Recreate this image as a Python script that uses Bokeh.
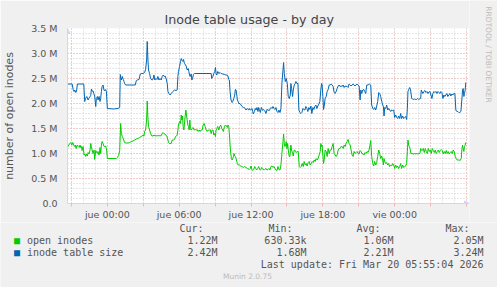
import math
from bokeh.plotting import figure
from bokeh.layouts import column, row
from bokeh.models import (Label, Arrow, NormalHead, FixedTicker, SingleIntervalTicker,
                          CustomJSTickFormatter)
from bokeh.embed import file_html
from bokeh.resources import INLINE

# ---------------- data (hours relative to jue 00:00, values in millions) -------------
size_hours = [-3.33,-2.94,-2.86,-2.78,-2.72,-2.64,-2.58,-2.50,-1.97,-1.89,-1.83,-1.72,-1.61,-1.56,-1.39,-1.33,-1.28,-1.19,-1.14,-1.06,-0.97,-0.92,-0.83,-0.78,-0.69,-0.61,-0.56,-0.50,-0.44,-0.36,-0.28,-0.22,-0.14,-0.08,0.0,0.06,0.5,0.89,1.03,1.08,1.17,1.25,1.33,1.39,1.44,1.53,2.33,2.42,2.50,2.64,2.75,2.83,2.97,3.11,3.19,3.28,3.33,3.39,3.44,3.53,3.61,3.72,3.81,3.89,3.97,4.06,4.14,4.22,4.31,4.39,4.50,4.58,4.67,4.75,4.83,4.94,5.00,5.06,5.14,5.25,5.33,5.47,5.61,5.75,5.83,5.89,5.94,6.03,6.11,6.17,6.25,6.31,6.36,6.44,6.53,6.58,6.67,6.75,6.81,6.86,6.92,7.00,7.06,7.11,7.19,7.28,8.67,8.72,8.81,8.89,8.97,9.03,9.08,9.14,9.22,9.31,9.42,9.50,9.64,9.78,9.92,10.06,10.14,10.19,10.25,10.33,10.42,10.47,10.56,10.64,10.69,10.75,10.81,10.86,10.92,10.97,11.08,11.17,11.25,11.36,11.44,11.58,11.67,11.72,11.81,11.86,11.94,12.03,12.08,12.14,12.19,12.28,12.36,12.42,12.50,12.58,12.64,12.69,12.78,12.86,12.97,13.06,13.14,13.25,13.33,13.42,13.53,13.61,13.67,13.75,13.83,13.92,14.00,14.08,14.17,14.25,14.33,14.42,14.50,14.58,14.72,14.78,14.86,14.94,15.03,15.11,15.19,15.28,15.33,15.39,15.47,15.53,15.61,15.69,15.75,15.83,15.92,16.00,16.08,16.17,16.25,16.33,16.42,16.50,16.58,16.67,16.75,16.83,16.92,17.00,17.08,17.17,17.25,17.33,17.42,17.50,17.58,17.67,17.75,17.83,17.89,17.94,18.00,18.06,18.11,18.19,18.28,18.36,18.44,18.53,18.61,18.69,18.78,18.86,18.94,19.03,19.11,19.19,19.28,19.36,19.44,19.53,19.61,19.69,19.78,19.86,19.94,20.03,20.11,20.19,20.28,20.36,20.44,20.53,20.61,20.69,20.78,20.86,20.94,21.03,21.11,21.17,21.25,21.33,21.42,21.50,21.58,21.67,21.78,21.89,22.00,22.08,22.17,22.25,22.33,22.42,22.50,22.58,22.67,22.75,22.83,22.92,23.00,23.06,23.11,23.17,23.25,23.33,23.42,23.50,23.58,23.67,23.75,23.83,23.92,24.00,24.08,24.17,24.25,24.33,24.42,24.50,24.58,24.67,24.75,24.83,24.92,25.00,25.06,25.11,25.17,25.25,25.33,25.42,25.50,25.58,25.67,25.75,25.83,25.92,26.00,26.08,26.17,26.22,26.28,26.36,26.44,26.53,26.61,26.69,26.78,26.86,26.94,27.03,27.11,27.19,27.28,27.36,27.44,27.53,27.61,27.69,27.78,27.86,27.94,28.03,28.11,28.19,28.28,28.36,28.44,28.53,28.61,28.69,28.78,28.86,28.94,29.03,29.11,29.19,29.28,29.36,29.44,29.53,29.61,29.67,29.72,29.78,29.83,29.89,29.94]
size_millions = [2.39,2.39,2.28,2.24,2.27,2.22,2.24,2.39,2.39,2.04,2.10,2.14,2.07,2.10,2.16,2.29,2.25,2.25,2.20,2.15,1.94,2.10,2.14,2.07,2.14,2.04,2.10,2.24,2.34,2.37,2.27,2.25,2.28,2.24,1.90,1.90,1.89,1.90,1.92,2.58,2.47,2.54,2.48,2.44,2.40,2.37,2.37,2.46,2.47,2.48,2.59,2.60,2.60,2.62,2.68,2.87,3.24,2.87,2.67,2.60,2.50,2.47,2.48,2.57,2.47,2.50,2.48,2.54,2.47,2.50,2.47,2.54,2.57,2.54,2.55,2.47,2.40,2.24,2.20,2.17,2.20,2.24,2.27,2.26,2.27,2.54,2.64,2.74,2.84,2.90,2.86,2.84,2.88,2.80,2.77,2.75,2.67,2.70,2.64,2.57,2.54,2.59,2.47,2.50,2.58,2.60,2.60,2.50,2.54,2.60,2.64,2.72,2.60,2.57,2.64,2.60,2.62,2.60,2.59,2.58,2.57,2.56,2.48,2.47,2.24,2.07,2.02,2.04,2.10,2.17,2.28,2.27,2.17,2.07,2.04,2.00,2.00,1.97,1.94,1.92,1.92,1.87,1.90,1.89,1.87,1.90,1.87,1.88,1.90,1.84,1.79,1.84,1.90,1.87,1.92,1.84,1.92,1.88,1.82,1.92,1.86,1.88,1.86,1.80,1.88,1.87,1.86,1.90,1.92,1.90,1.94,1.90,1.88,1.92,1.84,1.82,1.87,1.82,1.90,2.40,2.82,2.60,2.44,2.50,2.40,2.14,2.10,2.17,2.40,2.30,2.14,2.27,2.37,2.40,2.44,2.40,2.40,1.87,1.82,1.80,1.82,1.90,1.88,1.87,1.94,1.90,1.84,1.92,1.88,1.95,1.80,1.92,1.88,1.94,1.97,1.90,1.95,1.99,2.04,2.27,2.40,2.37,2.14,1.88,1.94,2.10,2.14,2.24,2.28,2.37,2.37,2.39,2.37,2.34,2.22,2.20,2.24,2.30,2.35,2.37,2.34,2.35,2.34,2.37,2.32,2.35,2.34,2.34,2.32,2.39,2.37,2.35,2.37,2.39,2.37,2.35,2.37,2.39,2.37,2.35,2.07,2.27,2.20,2.27,2.28,2.24,2.20,2.37,2.37,2.39,2.37,1.97,1.90,1.88,1.92,1.87,1.95,2.04,2.22,2.20,2.14,2.04,1.97,1.94,1.75,1.92,1.90,1.97,1.87,1.90,1.87,1.84,1.87,1.86,1.87,1.72,1.77,1.72,1.70,1.75,1.70,1.80,1.70,1.75,1.70,1.72,1.74,1.68,1.90,2.24,2.28,2.32,2.27,2.10,2.09,2.08,2.09,2.08,2.08,2.10,2.08,2.09,2.10,2.27,2.24,2.20,2.24,2.26,2.22,2.24,2.20,2.23,2.24,2.17,2.10,2.20,2.24,2.22,2.24,2.20,2.24,2.22,2.20,2.24,2.22,2.10,2.17,2.14,2.17,2.20,2.14,2.17,2.20,2.15,2.19,2.17,2.20,2.20,1.87,1.84,1.84,1.82,1.82,1.84,2.07,2.27,2.30,2.14,2.20,2.27,2.42]

open_hours = [-3.33,-3.28,-3.14,-3.06,-2.97,-2.89,-2.81,-2.72,-2.67,-2.61,-2.56,-2.50,-2.44,-2.36,-2.28,-2.22,-2.17,-2.11,-2.03,-1.94,-1.89,-1.81,-1.75,-1.67,-1.61,-1.53,-1.44,-1.39,-1.33,-1.28,-1.19,-1.11,-1.06,-0.97,-0.89,-0.83,-0.78,-0.69,-0.61,-0.56,-0.50,-0.44,-0.36,-0.28,-0.22,-0.14,-0.06,0.00,0.75,0.83,0.94,1.03,1.11,1.17,1.25,1.33,1.39,1.44,1.58,1.72,1.86,2.00,2.14,2.28,2.42,2.56,2.69,2.83,2.92,2.97,3.06,3.11,3.19,3.28,3.33,3.39,3.44,3.53,3.61,3.72,3.81,3.89,3.97,4.06,4.14,4.22,4.31,4.39,4.47,4.56,4.64,4.72,4.81,4.89,4.97,5.06,5.11,5.19,5.33,5.42,5.53,5.61,5.69,5.78,5.83,5.89,5.94,6.03,6.11,6.17,6.22,6.28,6.33,6.39,6.50,6.56,6.61,6.72,6.78,6.83,6.89,6.94,7.00,7.08,7.17,7.25,7.33,7.42,7.50,7.58,7.67,7.75,7.83,7.92,8.00,8.08,8.17,8.25,8.33,8.42,8.50,8.58,8.67,8.75,8.83,8.89,8.97,9.03,9.08,9.14,9.22,9.31,9.39,9.47,9.56,9.64,9.69,9.78,9.86,9.94,10.03,10.08,10.14,10.19,10.25,10.31,10.36,10.42,10.47,10.53,10.58,10.64,10.69,10.75,10.81,10.86,10.92,11.03,11.14,11.25,11.36,11.47,11.58,11.72,11.86,11.94,12.00,12.08,12.14,12.22,12.31,12.39,12.47,12.56,12.64,12.72,12.81,12.89,12.97,13.06,13.14,13.25,13.33,13.42,13.50,13.58,13.67,13.75,13.83,13.92,14.00,14.08,14.17,14.25,14.33,14.42,14.50,14.58,14.67,14.72,14.78,14.83,14.89,14.94,15.00,15.06,15.11,15.19,15.25,15.33,15.39,15.47,15.53,15.61,15.69,15.78,15.86,15.94,16.03,16.11,16.19,16.28,16.36,16.44,16.53,16.61,16.69,16.78,16.86,16.94,17.03,17.11,17.19,17.28,17.36,17.44,17.53,17.61,17.69,17.78,17.83,17.89,17.94,18.00,18.06,18.11,18.19,18.28,18.36,18.44,18.53,18.61,18.69,18.78,18.86,18.94,19.03,19.11,19.19,19.28,19.36,19.44,19.53,19.61,19.69,19.78,19.86,19.94,20.03,20.11,20.19,20.28,20.36,20.44,20.53,20.61,20.69,20.78,20.86,20.94,21.03,21.11,21.19,21.28,21.36,21.44,21.53,21.61,21.69,21.78,21.86,21.94,22.00,22.08,22.17,22.25,22.33,22.42,22.50,22.58,22.67,22.75,22.83,22.92,23.00,23.06,23.11,23.17,23.25,23.33,23.42,23.50,23.58,23.67,23.75,23.83,23.92,24.00,24.08,24.17,24.25,24.33,24.42,24.50,24.58,24.67,24.75,24.83,24.92,25.00,25.06,25.11,25.17,25.22,25.28,25.36,25.44,25.53,25.61,25.69,25.78,25.86,25.94,26.03,26.11,26.17,26.22,26.31,26.39,26.47,26.56,26.64,26.72,26.81,26.89,26.97,27.06,27.14,27.22,27.31,27.39,27.47,27.56,27.64,27.72,27.81,27.89,27.97,28.06,28.14,28.22,28.31,28.39,28.47,28.56,28.64,28.72,28.81,28.89,28.97,29.06,29.14,29.22,29.31,29.39,29.47,29.56,29.61,29.67,29.72,29.78,29.83,29.89,29.94]
open_millions = [1.12,1.15,1.20,1.22,1.17,1.22,1.17,1.14,1.17,1.10,1.15,1.17,1.14,1.12,1.17,1.12,1.14,1.06,1.14,0.97,0.99,0.94,0.99,0.95,1.02,0.99,1.08,1.20,1.14,1.07,1.00,1.07,0.88,1.06,1.02,1.00,1.04,0.97,1.12,1.00,1.17,1.24,1.20,1.14,1.14,1.15,1.07,0.90,0.90,0.92,0.96,1.06,1.60,1.40,1.34,1.30,1.25,1.22,1.21,1.21,1.22,1.24,1.25,1.27,1.29,1.30,1.32,1.34,1.35,1.37,1.35,1.44,1.47,1.67,2.05,1.70,1.54,1.47,1.40,1.35,1.35,1.37,1.35,1.36,1.35,1.36,1.35,1.36,1.35,1.39,1.42,1.40,1.39,1.36,1.35,1.27,1.22,1.20,1.20,1.27,1.27,1.28,1.34,1.35,1.37,1.47,1.57,1.64,1.60,1.77,1.67,1.75,1.54,1.47,1.75,1.87,1.77,1.57,1.54,1.47,1.67,1.50,1.47,1.50,1.52,1.47,1.48,1.47,1.48,1.44,1.47,1.44,1.47,1.47,1.57,1.60,1.54,1.47,1.44,1.47,1.46,1.48,1.40,1.47,1.47,1.37,1.40,1.34,1.47,1.50,1.54,1.47,1.54,1.57,1.50,1.47,1.44,1.54,1.57,1.55,1.52,1.57,1.54,1.40,1.17,1.00,0.90,0.87,0.90,0.94,1.00,0.95,0.94,0.90,0.84,0.80,0.77,0.77,0.75,0.74,0.72,0.74,0.72,0.70,0.68,0.70,0.75,0.68,0.66,0.68,0.74,0.70,0.67,0.70,0.74,0.68,0.67,0.72,0.70,0.67,0.68,0.70,0.67,0.68,0.70,0.67,0.74,0.75,0.72,0.74,0.70,0.67,0.66,0.74,0.68,0.67,0.77,1.00,1.24,1.39,1.20,1.14,1.17,1.24,1.10,1.20,1.07,0.94,0.94,1.17,1.07,1.00,0.95,1.07,1.06,1.02,1.04,1.04,0.74,0.72,0.74,0.80,0.74,0.84,0.77,0.80,0.75,0.82,0.84,0.77,0.80,0.84,0.82,0.87,0.84,0.90,0.87,0.90,0.97,1.04,1.20,1.14,1.17,0.97,0.80,0.87,1.07,1.04,0.94,1.10,1.00,1.07,1.07,1.14,1.20,1.00,0.97,0.94,0.97,1.07,1.10,1.10,1.14,1.14,1.10,1.17,1.14,1.20,1.24,1.28,1.20,1.17,1.07,0.97,0.94,1.04,1.00,1.02,1.04,1.00,0.99,1.06,1.04,0.99,1.00,0.97,1.02,1.00,1.04,1.02,1.07,1.17,1.26,0.94,0.80,0.75,0.84,0.77,0.82,0.94,1.07,1.00,0.90,0.95,0.87,0.77,0.90,0.84,0.80,0.82,0.77,0.80,0.74,0.77,0.75,0.80,0.77,0.70,0.77,0.72,0.75,0.70,0.74,0.80,0.70,0.77,0.72,0.74,0.75,0.80,1.04,1.27,1.17,1.14,1.10,1.00,1.00,0.99,0.99,1.00,0.99,1.00,0.99,1.00,1.00,1.10,1.07,1.06,1.10,1.02,1.10,1.04,1.00,1.10,1.04,1.07,1.00,1.10,1.06,1.02,1.07,1.00,1.04,1.07,1.02,1.06,1.08,1.06,0.99,1.04,1.00,1.06,1.00,1.04,0.99,1.02,1.04,1.00,1.07,1.04,0.94,0.90,0.87,0.87,0.87,0.86,0.90,1.07,1.17,1.10,1.04,1.14,1.17,1.22]

x_tick_hours = [0, 6, 12, 18, 24]
x_tick_labels = ["jue 00:00", "jue 06:00", "jue 12:00", "jue 18:00", "vie 00:00"]
series_names = ["open inodes", "inode table size"]
series_colors = ["#00CC00", "#0066B3"]
stat_headers = ["Cur:", "Min:", "Avg:", "Max:"]
open_stats = ["1.22M", "630.33k", "1.06M", "2.05M"]
size_stats = ["2.42M", "1.68M", "2.21M", "3.24M"]
title_text = "Inode table usage - by day"
y_label = "number of open inodes"
last_update = "Last update: Fri Mar 20 05:55:04 2026"
footer = "Munin 2.0.75"
side_text = "RRDTOOL / TOBI OETIKER"

# ---------------- main chart ----------------
W, H = 497, 287
TOP_H = 222              # height of the chart part; legend part below
FL = 66                  # left border of the chart
FR = 469                 # right edge of the chart frame
BG = "#F0F0F0"
TXT = "#555555"
AXIS = "#CFD6F8"

p = figure(width=FR, height=TOP_H, output_backend="svg", toolbar_location=None,
           x_range=(-3.33, 30.25), y_range=(0, 3.5),
           min_border_left=FL, min_border_right=0, min_border_top=28, min_border_bottom=18)
p.frame_align = False
p.background_fill_color = "white"
p.border_fill_color = BG
p.outline_line_color = None

p.title.text = title_text
p.title.align = "left"
p.title.offset = 163 - FL
p.title.standoff = 3
p.title.text_font = "DejaVu Sans"
p.title.text_font_size = "12.7px"
p.title.text_font_style = "normal"
p.title.text_color = "#444444"

p.line(open_hours, open_millions, line_color=series_colors[0], line_width=1)
p.line(size_hours, size_millions, line_color=series_colors[1], line_width=1)

# x axis
p.xaxis.ticker = FixedTicker(ticks=list(range(-3, 31, 3)), minor_ticks=list(range(-3, 31)))
p.xaxis.formatter = CustomJSTickFormatter(args=dict(hours=x_tick_hours, labels=x_tick_labels),
    code="const i = hours.indexOf(Math.round(tick)); return (i >= 0 && Math.abs(tick - hours[i]) < 1e-6) ? labels[i] : '';")
p.xaxis.axis_line_color = AXIS
p.xaxis.major_tick_in = 0
p.xaxis.major_tick_out = 3
p.xaxis.major_tick_line_color = "#F4B4B4"
p.xaxis.minor_tick_line_color = None
p.xaxis.major_label_text_font = "DejaVu Sans"
p.xaxis.major_label_text_font_size = "9.5px"
p.xaxis.major_label_text_color = TXT
p.xaxis.major_label_standoff = 1

# y axis
p.yaxis.ticker = SingleIntervalTicker(interval=0.5, num_minor_ticks=5)
p.yaxis.formatter = CustomJSTickFormatter(code="return Math.abs(tick) < 1e-9 ? '0.0' : tick.toFixed(1) + ' M';")
p.yaxis.axis_line_color = AXIS
p.yaxis.major_tick_in = 0
p.yaxis.major_tick_out = 0
p.yaxis.minor_tick_line_color = None
p.yaxis.major_label_text_font = "DejaVu Sans"
p.yaxis.major_label_text_font_size = "9.5px"
p.yaxis.major_label_text_color = TXT
p.yaxis.major_label_standoff = 6
p.yaxis.axis_label = y_label
p.yaxis.axis_label_text_font = "DejaVu Sans"
p.yaxis.axis_label_text_font_style = "normal"
p.yaxis.axis_label_text_font_size = "11px"
p.yaxis.axis_label_text_color = TXT
p.yaxis.axis_label_standoff = 12

# grids
for g in (p.xgrid, p.ygrid):
    g.grid_line_color = "#F4B0B0"
    g.grid_line_dash = "1 2"
    g.minor_grid_line_color = "#CFCFCF"
    g.minor_grid_line_dash = "1 2"

# axis arrows
p.add_layout(Arrow(x_start=29.9, y_start=0, x_end=30.25, y_end=0, line_color=AXIS,
                   end=NormalHead(size=5, fill_color=AXIS, line_color=AXIS)))
p.add_layout(Arrow(x_start=-3.33, y_start=3.3, x_end=-3.33, y_end=3.5, line_color=AXIS,
                   end=NormalHead(size=5, fill_color=AXIS, line_color=AXIS)))


def blank_figure(width, height):
    f = figure(width=width, height=height, output_backend="svg", toolbar_location=None,
               x_range=(0, width), y_range=(0, height), x_axis_location=None, y_axis_location=None,
               min_border_left=0, min_border_right=0, min_border_top=0, min_border_bottom=0)
    f.frame_align = False
    f.background_fill_color = BG
    f.border_fill_color = BG
    f.outline_line_color = None
    f.xgrid.visible = False
    f.ygrid.visible = False
    return f


# ---------------- right strip with the RRDtool credit ----------------
s = blank_figure(W - FR, TOP_H)
s.add_layout(Label(x=488 - FR, y=TOP_H - 54, x_units="screen", y_units="screen", text=side_text,
                   text_align="center", text_baseline="middle", angle=-math.pi / 2,
                   text_font="DejaVu Sans", text_font_size="7.5px", text_color="#BBBBBB"))

# ---------------- legend / statistics part ----------------
q = blank_figure(W, H - TOP_H)


def lab(text, x, y_top, align="left", size="10px", color=TXT, font="DejaVu Sans Mono"):
    # y_top is measured from the top of the whole page; screen units start at bottom-left
    q.add_layout(Label(x=x, y=H - y_top, x_units="screen", y_units="screen",
                       text=text, text_align=align, text_baseline="middle",
                       text_font_size=size, text_color=color, text_font=font))


hdr_right = [203, 292, 380, 469]
val_right = [217, 306, 393, 483]
for h, xr in zip(stat_headers, hdr_right):
    lab(h, xr, 228, align="right")
rows = [(series_names[0], series_colors[0], open_stats, 240),
        (series_names[1], series_colors[1], size_stats, 252)]
for name, col, stats, yy in rows:
    lab("\u25A0", 13.5, yy, color=col)
    lab(name, 26.5, yy)
    for st, xr in zip(stats, val_right):
        lab(st, xr, yy, align="right")
lab(last_update, 483, 264, align="right")
lab(footer, 247, 276, align="center", size="7.5px", color="#BBBBBB", font="DejaVu Sans")

layout = column(row(p, s, spacing=0), q, spacing=0)
open("out.html", "w").write(file_html(layout, INLINE))
